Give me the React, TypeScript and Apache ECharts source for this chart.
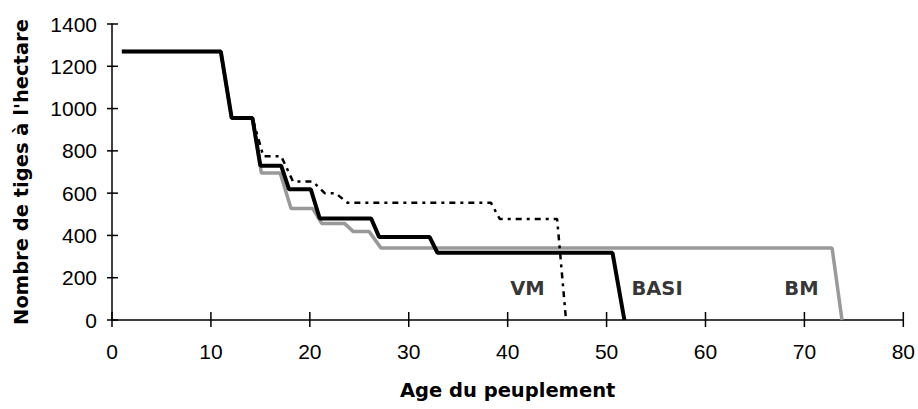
import React, { useEffect, useRef } from "react";
import * as echarts from "echarts";

const basiAge = [1, 11, 12.1, 14.2, 15.0, 17.1, 17.9, 20.1, 21.0, 26.2, 27.0, 32.1, 32.9, 50.6, 51.8];
const basiStems = [1270, 1270, 955, 955, 730, 730, 618, 618, 480, 480, 393, 393, 318, 318, 0];

const vmAge = [1, 11, 12.1, 14.2, 15.3, 17.1, 18.3, 20.3, 21.5, 22.6, 23.8, 38.3, 39.2, 45.0, 45.9];
const vmStems = [1270, 1270, 955, 955, 775, 775, 655, 655, 600, 600, 555, 555, 478, 478, 0];

const bmAge = [1, 11, 12.1, 14.2, 15.1, 17.0, 18.1, 20.3, 21.2, 23.5, 24.4, 26.0, 27.2, 72.8, 73.8];
const bmStems = [1270, 1270, 955, 955, 695, 695, 527, 527, 457, 457, 418, 418, 340, 340, 0];

const tagNames = ["VM", "BASI", "BM"];
const tagAge = [42.0, 55.1, 69.7];
const tagStems = [151, 151, 151];

const xTicks = [0, 10, 20, 30, 40, 50, 60, 70, 80];
const yTicks = [0, 200, 400, 600, 800, 1000, 1200, 1400];

const FONT = "Liberation Sans";
const BOLD_FONT = "DejaVu Sans";

function pairs(a: number[], b: number[]) {
  return a.map((v, i) => [v, b[i]]);
}

export default function App() {
  const ref = useRef<HTMLDivElement>(null);
  useEffect(() => {
    if (!ref.current) return;
    const chart = echarts.init(ref.current, undefined, { renderer: "svg" });
    const axisLineStyle = { color: "#000", width: 1.5 };
    const tickStyle = { stroke: "#000", lineWidth: 1.5 };
    chart.setOption({
      animation: false,
      backgroundColor: "#fff",
      grid: { left: 112, right: 13, top: 24, bottom: 89 },
      xAxis: {
        type: "value",
        min: xTicks[0],
        max: xTicks[xTicks.length - 1],
        interval: 10,
        splitLine: { show: false },
        axisLine: { show: true, lineStyle: axisLineStyle },
        axisTick: { show: false },
        name: "Age du peuplement",
        nameLocation: "middle",
        nameGap: 60,
        nameTextStyle: { color: "#000", fontSize: 19.5, fontWeight: "bold", fontFamily: BOLD_FONT },
        axisLabel: { color: "#000", fontSize: 21, fontFamily: FONT, margin: 21 },
      },
      yAxis: {
        type: "value",
        min: yTicks[0],
        max: yTicks[yTicks.length - 1],
        interval: 200,
        splitLine: { show: false },
        axisLine: { show: true, lineStyle: axisLineStyle },
        axisTick: { show: false },
        name: "Nombre de tiges à l'hectare",
        nameLocation: "middle",
        nameGap: 81,
        nameTextStyle: { color: "#000", fontSize: 19.5, fontWeight: "bold", fontFamily: BOLD_FONT },
        axisLabel: {
          color: "#000",
          fontSize: 21,
          fontFamily: FONT,
          margin: 15,
          formatter: (v: number) => String(v),
        },
      },
      series: [
        {
          name: "BM",
          type: "line",
          data: pairs(bmAge, bmStems),
          showSymbol: false,
          lineStyle: { color: "#999999", width: 3.5 },
          z: 2,
        },
        {
          name: "VM",
          type: "line",
          data: pairs(vmAge, vmStems),
          showSymbol: false,
          lineStyle: { color: "#000", width: 2.5, type: [6, 5, 3, 5] },
          z: 3,
        },
        {
          name: "BASI",
          type: "line",
          data: pairs(basiAge, basiStems),
          showSymbol: false,
          lineStyle: { color: "#000", width: 4 },
          z: 4,
        },
        {
          name: "tags",
          type: "scatter",
          symbolSize: 0,
          data: tagNames.map((n, i) => ({ name: n, value: [tagAge[i], tagStems[i]] })),
          label: {
            show: true,
            position: "inside",
            formatter: (p: any) => p.name,
            color: "#000",
            textBorderWidth: 0,
            fontSize: 19.5,
            fontWeight: "bold",
            fontFamily: BOLD_FONT,
          },
          z: 5,
        },
        {
          name: "xTickMarks",
          type: "custom",
          clip: false,
          silent: true,
          data: xTicks.map((v) => [v, 0]),
          renderItem: (params: any, api: any) => {
            const p = api.coord([api.value(0), api.value(1)]);
            return {
              type: "line",
              shape: { x1: p[0], y1: p[1] - 8, x2: p[0], y2: p[1] + 7 },
              style: tickStyle,
            };
          },
          z: 6,
        },
        {
          name: "yTickMarks",
          type: "custom",
          clip: false,
          silent: true,
          data: yTicks.map((v) => [0, v]),
          renderItem: (params: any, api: any) => {
            const p = api.coord([api.value(0), api.value(1)]);
            return {
              type: "line",
              shape: { x1: p[0] - 5, y1: p[1], x2: p[0] + 6, y2: p[1] },
              style: tickStyle,
            };
          },
          z: 6,
        },
      ],
    });
    return () => chart.dispose();
  }, []);
  return (
    <div
      ref={ref}
      style={{ position: "fixed", left: 0, top: 0, width: 918, height: 409 }}
    />
  );
}
